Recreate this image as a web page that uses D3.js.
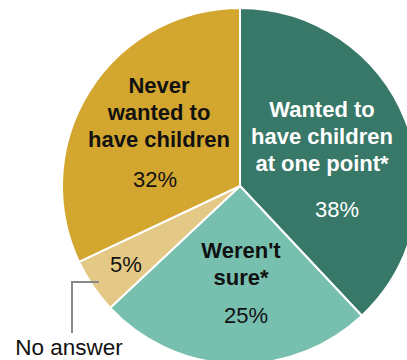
<!DOCTYPE html>
<html>
<head>
<meta charset="utf-8">
<script src="https://cdn.jsdelivr.net/npm/d3@7"></script>
<style>
  html, body { margin: 0; padding: 0; background: #fff; }
  svg { display: block; font-family: "Liberation Sans", Arial, sans-serif; }
</style>
</head>
<body>
<svg id="chart" width="407" height="360"></svg>
<script>
// Share of respondents by whether they ever wanted children
const categories = ["Wanted to have children at one point*", "Weren't sure*", "No answer", "Never wanted to have children"];
const values = [38, 25, 5, 32];
const labelLines = [
  ["Wanted to", "have children", "at one point*"],
  ["Weren't", "sure*"],
  [],
  ["Never", "wanted to", "have children"]
];
const colors = ["#387868", "#77bfaf", "#e3c985", "#d3a62f"];
const textColors = ["#ffffff", "#111111", "#111111", "#111111"];

const svg = d3.select("#chart");
const cx = 240, cy = 186, r = 178;

const pie = d3.pie().sort(null).value(d => d.value);
const arcs = pie(categories.map((c, i) => ({ cat: c, value: values[i], i })));
const arc = d3.arc().innerRadius(0).outerRadius(r);

const g = svg.append("g").attr("transform", `translate(${cx},${cy})`);

g.selectAll("path.slice")
  .data(arcs)
  .join("path")
  .attr("class", "slice")
  .attr("d", arc)
  .attr("fill", d => colors[d.data.i])
  .attr("stroke", "#fff")
  .attr("stroke-width", 2)
  .attr("stroke-linejoin", "round");

// Label anchors relative to the pie centre: name block and value
const labelAt = [
  { x: 82, y: -69, px: 97, py: 31 },
  { x: 1, y: 72, px: 6, py: 137 },
  null,
  { x: -81, y: -93, px: -85, py: 1 }
];
const lineH = 27;

arcs.forEach(d => {
  const i = d.data.i;
  const pos = labelAt[i];
  if (!pos) return;
  const t = g.append("text")
    .attr("text-anchor", "middle")
    .attr("fill", textColors[i])
    .attr("font-weight", "bold")
    .attr("font-size", 22);
  labelLines[i].forEach((line, k) => {
    t.append("tspan").attr("x", pos.x).attr("y", pos.y + k * lineH).text(line);
  });
  g.append("text")
    .attr("text-anchor", "middle")
    .attr("fill", textColors[i])
    .attr("font-size", 22)
    .attr("x", pos.px).attr("y", pos.py)
    .text(values[i] + "%");
});

// Small slice: value inside, name outside with a leader line
g.append("text")
  .attr("text-anchor", "middle")
  .attr("fill", textColors[2])
  .attr("font-size", 22)
  .attr("x", -114).attr("y", 86)
  .text(values[2] + "%");

g.append("path")
  .attr("d", "M-141,96H-168V147")
  .attr("fill", "none")
  .attr("stroke", "#888")
  .attr("stroke-width", 2);

g.append("text")
  .attr("text-anchor", "middle")
  .attr("fill", "#111")
  .attr("font-size", 22.5)
  .attr("x", -171).attr("y", 169)
  .text(categories[2]);
</script>
</body>
</html>
